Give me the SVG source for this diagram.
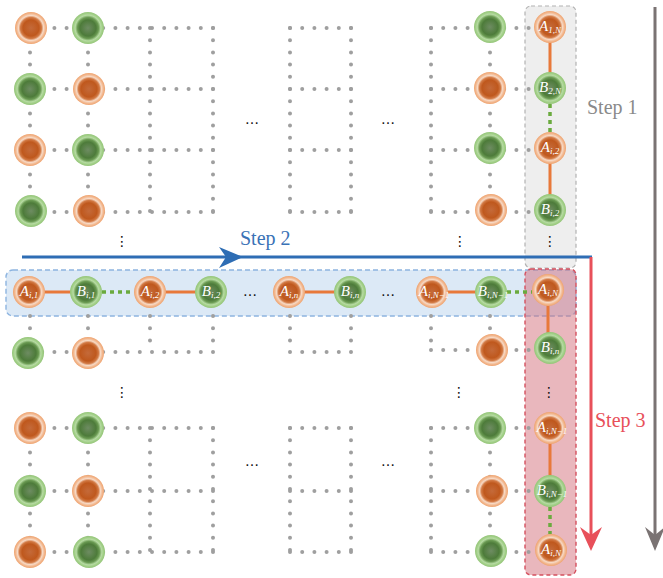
<svg xmlns="http://www.w3.org/2000/svg" width="663" height="578" viewBox="0 0 663 578">
<defs>
<radialGradient id="og" cx="0.5" cy="0.5" r="0.5">
<stop offset="0" stop-color="#c46a3a"/>
<stop offset="0.5" stop-color="#bf581d"/>
<stop offset="0.66" stop-color="#d27a45"/>
<stop offset="0.78" stop-color="#f7dac6"/>
<stop offset="0.9" stop-color="#f2b78e"/>
<stop offset="1" stop-color="#efa36f"/>
</radialGradient>
<radialGradient id="gg" cx="0.5" cy="0.5" r="0.5">
<stop offset="0" stop-color="#6e8c62"/>
<stop offset="0.5" stop-color="#4d7b3a"/>
<stop offset="0.66" stop-color="#6a9a52"/>
<stop offset="0.8" stop-color="#b6dba2"/>
<stop offset="0.9" stop-color="#a2cf88"/>
<stop offset="1" stop-color="#94c578"/>
</radialGradient>
<style>
.d{fill:none;stroke:#9f9f9f;stroke-width:4;stroke-linecap:round;stroke-dasharray:0 12.2}
.ol{stroke:#e8793a;stroke-width:3;fill:none}
.gl{stroke:#6aaa3e;stroke-width:3.5;stroke-dasharray:4 4;fill:none}
.o{fill:url(#og)}
.g{fill:url(#gg)}
.lbl{font-family:"Liberation Serif",serif;font-style:italic;font-size:15px;fill:#ffffff;text-anchor:middle}
.s{font-size:9px}
.el{font-family:"DejaVu Sans",sans-serif;font-size:14px;fill:#111;text-anchor:middle}
.st{font-family:"Liberation Serif",serif;font-size:20px}
</style>
</defs>
<rect width="663" height="578" fill="#ffffff"/>
<g id="boxes">
<rect id="step1-box" x="525" y="6" width="51" height="262" rx="6" fill="#eeeeee" stroke="#b2b2b2" stroke-width="1.2" stroke-dasharray="4 3"/>
<rect id="step2-band" x="6" y="270" width="570" height="46" rx="7" fill="#d3e3f4" fill-opacity="0.8" stroke="#8db4e0" stroke-width="1.4" stroke-dasharray="5 3"/>
<rect id="step3-box" x="525" y="269" width="51" height="306" rx="6" fill="#d4707c" fill-opacity="0.5" stroke="#d4505e" stroke-width="1.4" stroke-dasharray="4 3"/>
</g>
<g id="connectors">
<path class="d" d="M30,28H213M30,89H213M30,150H213M30,212H213M290,28H351M290,89H351M290,150H351M290,212H351M431,28H550M431,89H550M431,150H550M431,212H550"/>
<path class="d" d="M30,28V212M88,28V212M150,28V212M213,28V212M290,28V212M351,28V212M431,28V212M490,28V212"/>
<path class="d" d="M30,316V352M88,316V352M150,316V352M213,316V352M290,316V352M351,316V352M431,316V352M490,316V352"/>
<path class="d" d="M30,352H213M290,352H351M431,350H550"/>
<path class="d" d="M30,428H213M30,491H213M30,552H213M290,428H351M290,491H351M290,552H351M431,428H550M431,491H550M431,552H550"/>
<path class="d" d="M30,428V552M88,428V552M150,428V552M213,428V552M290,428V552M351,428V552M431,428V552M490,428V552"/>
<path class="ol" d="M550,27V88M550,148V210M29,292H86M150,292H211M289,292H350M432,292H491M548,292V348M550,428V491"/>
<path class="gl" d="M550,104V132M102,292H134M507,292H532M550,507V534"/>
<path d="M22,257H592" stroke="#2e6db4" stroke-width="3" fill="none"/>
<path d="M243,257L219,247L226,257L219,268Z" fill="#2e6db4"/>
<path d="M591,257V540" stroke="#e8505a" stroke-width="3" fill="none"/>
<path d="M591,551L580,527L591,535L602,527Z" fill="#e8505a"/>
<path d="M655,7V540" stroke="#7a7373" stroke-width="3" fill="none"/>
<path d="M655,551L645,527L655,535L665,527Z" fill="#7a7373"/>
</g>
<g id="labels">
<text class="st" x="587" y="114" fill="#8a8a8a">Step 1</text>
<text class="st" x="240" y="245" fill="#3a72b6">Step 2</text>
<text class="st" x="595" y="427" fill="#e8505a">Step 3</text>
<text class="el" x="252" y="124">…</text>
<text class="el" x="388" y="124">…</text>
<text class="el" x="250" y="296">…</text>
<text class="el" x="388" y="296">…</text>
<text class="el" x="252" y="466">…</text>
<text class="el" x="388" y="466">…</text>
<text class="el" x="122" y="246">⋮</text>
<text class="el" x="460" y="246">⋮</text>
<text class="el" x="550" y="246">⋮</text>
<text class="el" x="122" y="397">⋮</text>
<text class="el" x="459" y="397">⋮</text>
<text class="el" x="549" y="397">⋮</text>
</g>
<g id="n-t1-1"><circle class="o" cx="31" cy="28" r="16"/></g>
<g id="n-t1-2"><circle class="g" cx="88" cy="28" r="16"/></g>
<g id="n-t1-3"><circle class="g" cx="490" cy="27" r="16"/></g>
<g id="n-A1N"><circle class="o" cx="550" cy="27" r="16"/><text class="lbl" x="550" y="31">A<tspan class="s" dy="2">1,N</tspan></text></g>
<g id="n-t2-1"><circle class="g" cx="30" cy="89" r="16"/></g>
<g id="n-t2-2"><circle class="o" cx="89" cy="89" r="16"/></g>
<g id="n-t2-3"><circle class="o" cx="490" cy="88" r="16"/></g>
<g id="n-B2N"><circle class="g" cx="550" cy="88" r="16"/><text class="lbl" x="550" y="92">B<tspan class="s" dy="2">2,N</tspan></text></g>
<g id="n-t3-1"><circle class="o" cx="30" cy="150" r="16"/></g>
<g id="n-t3-2"><circle class="g" cx="88" cy="150" r="16"/></g>
<g id="n-t3-3"><circle class="g" cx="490" cy="148" r="16"/></g>
<g id="n-Ai2-top"><circle class="o" cx="550" cy="148" r="16"/><text class="lbl" x="550" y="152">A<tspan class="s" dy="2">i,2</tspan></text></g>
<g id="n-t4-1"><circle class="g" cx="31" cy="211" r="16"/></g>
<g id="n-t4-2"><circle class="o" cx="89" cy="211" r="16"/></g>
<g id="n-t4-3"><circle class="o" cx="491" cy="210" r="16"/></g>
<g id="n-Bi2-top"><circle class="g" cx="550" cy="210" r="16"/><text class="lbl" x="550" y="214">B<tspan class="s" dy="2">i,2</tspan></text></g>
<g id="n-Ai1"><circle class="o" cx="29" cy="292" r="16"/><text class="lbl" x="29" y="296">A<tspan class="s" dy="2">i,1</tspan></text></g>
<g id="n-Bi1"><circle class="g" cx="86" cy="292" r="16"/><text class="lbl" x="86" y="296">B<tspan class="s" dy="2">i,1</tspan></text></g>
<g id="n-Ai2"><circle class="o" cx="150" cy="292" r="16"/><text class="lbl" x="150" y="296">A<tspan class="s" dy="2">i,2</tspan></text></g>
<g id="n-Bi2"><circle class="g" cx="211" cy="292" r="16"/><text class="lbl" x="211" y="296">B<tspan class="s" dy="2">i,2</tspan></text></g>
<g id="n-Ain"><circle class="o" cx="289" cy="292" r="16"/><text class="lbl" x="289" y="296">A<tspan class="s" dy="2">i,n</tspan></text></g>
<g id="n-Bin"><circle class="g" cx="350" cy="292" r="16"/><text class="lbl" x="350" y="296">B<tspan class="s" dy="2">i,n</tspan></text></g>
<g id="n-AiN1"><circle class="o" cx="432" cy="292" r="16"/><text class="lbl" x="434" y="296">A<tspan class="s" dy="2">i,N−1</tspan></text></g>
<g id="n-BiN1"><circle class="g" cx="491" cy="292" r="16"/><text class="lbl" x="493" y="296">B<tspan class="s" dy="2">i,N−1</tspan></text></g>
<g id="n-AiN"><circle class="o" cx="548" cy="290" r="16"/><text class="lbl" x="548" y="294">A<tspan class="s" dy="2">i,N</tspan></text></g>
<g id="n-b1-1"><circle class="g" cx="28" cy="353" r="16"/></g>
<g id="n-b1-2"><circle class="o" cx="88" cy="353" r="16"/></g>
<g id="n-b1-3"><circle class="o" cx="492" cy="350" r="16"/></g>
<g id="n-Bin-col"><circle class="g" cx="550" cy="348" r="16"/><text class="lbl" x="550" y="352">B<tspan class="s" dy="2">i,n</tspan></text></g>
<g id="n-b2-1"><circle class="o" cx="30" cy="428" r="16"/></g>
<g id="n-b2-2"><circle class="g" cx="88" cy="428" r="16"/></g>
<g id="n-b2-3"><circle class="g" cx="490" cy="428" r="16"/></g>
<g id="n-AiN1-col"><circle class="o" cx="550" cy="428" r="16"/><text class="lbl" x="552" y="432">A<tspan class="s" dy="2">i,N−1</tspan></text></g>
<g id="n-b3-1"><circle class="g" cx="30" cy="491" r="16"/></g>
<g id="n-b3-2"><circle class="o" cx="88" cy="491" r="16"/></g>
<g id="n-b3-3"><circle class="o" cx="492" cy="491" r="16"/></g>
<g id="n-BiN1-col"><circle class="g" cx="550" cy="491" r="16"/><text class="lbl" x="552" y="495">B<tspan class="s" dy="2">i,N−1</tspan></text></g>
<g id="n-b4-1"><circle class="o" cx="30" cy="552" r="16"/></g>
<g id="n-b4-2"><circle class="g" cx="89" cy="552" r="16"/></g>
<g id="n-b4-3"><circle class="g" cx="491" cy="551" r="16"/></g>
<g id="n-AiN-col"><circle class="o" cx="551" cy="550" r="16"/><text class="lbl" x="551" y="554">A<tspan class="s" dy="2">i,N</tspan></text></g>
</svg>
